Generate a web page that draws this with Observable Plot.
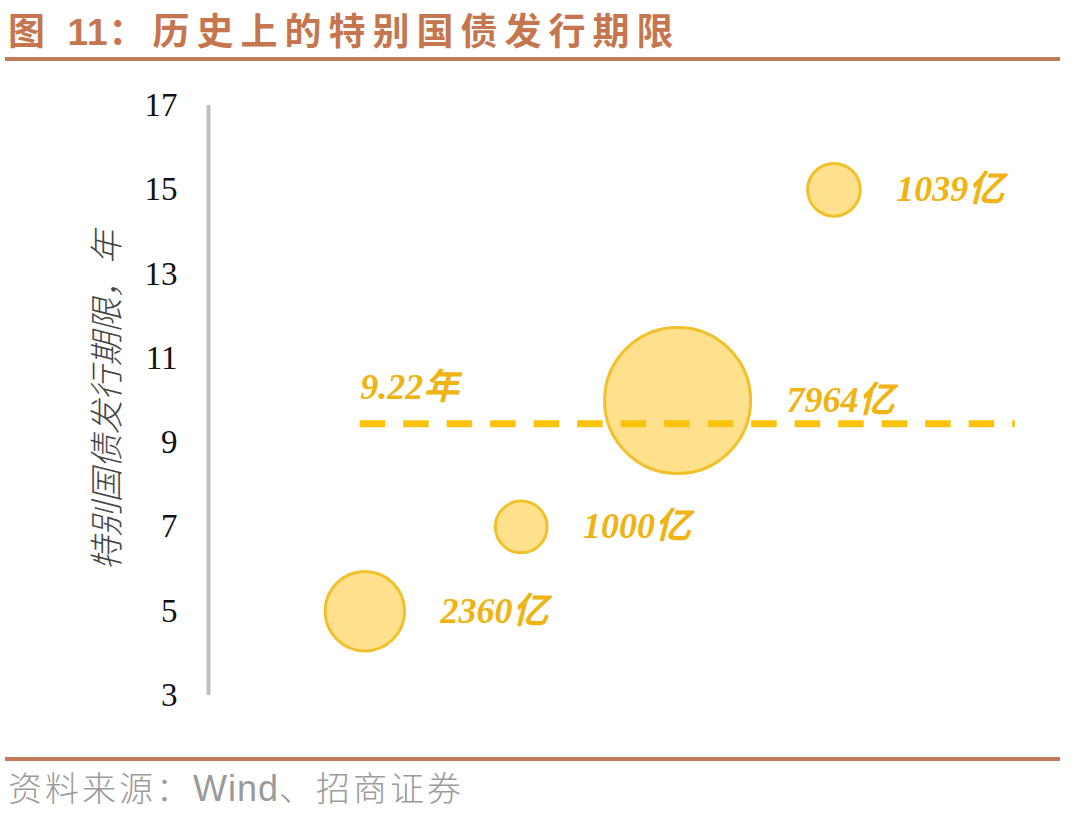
<!DOCTYPE html>
<html>
<head>
<meta charset="utf-8">
<script src="https://cdn.jsdelivr.net/npm/d3@7"></script>
<script src="https://cdn.jsdelivr.net/npm/@observablehq/plot@0.6"></script>
<style>
  html, body { margin: 0; padding: 0; background: #fff; }
  body { width: 1080px; height: 817px; overflow: hidden; position: relative; }
  .title {
    height: 57px; margin: 0 20px 0 5px;
    border-bottom: 4px solid #C27B58;
    font-family: "Noto Sans CJK SC", "Liberation Sans", sans-serif;
    font-weight: 700; font-size: 37px; letter-spacing: 7px;
    color: #C5764E; line-height: 58px; padding-left: 3px; white-space: nowrap;
  }
  .title .num { font-family: "Liberation Sans", sans-serif; letter-spacing: 1px; }
  #chart { height: 696px; }
  #chart svg { display: block; overflow: visible; }
  .footer {
    margin: 0 20px 0 5px; border-top: 4px solid #C27B58;
    font-family: "Noto Sans CJK SC", sans-serif; font-weight: 300;
    font-size: 34px; letter-spacing: 3px; color: #9a9a9a; line-height: 52px; padding-left: 3px; white-space: nowrap;
  }
  .footer .en { font-family: "Liberation Sans", sans-serif; font-weight: 400; font-size: 36px; letter-spacing: 1px; }
</style>
</head>
<body>
<div class="title">图 <span class="num">11</span>：历史上的特别国债发行期限</div>
<div id="chart"></div>
<div class="footer">资料来源：<span class="en">Wind</span>、招商证券</div>
<script>
// ---- data ----
const xPos = [1, 2, 3, 4];                 // bubble order along the (unlabelled) x axis
const tenor = [5, 7, 10, 15];              // 发行期限，年
const amount = [2360, 1000, 7964, 1039];   // 发行规模，亿
const amountLabels = ["2360亿", "1000亿", "7964亿", "1039亿"];
const yTicks = [3, 5, 7, 9, 11, 13, 15, 17];
const avgLineY = [9.45];                   // dashed average line as drawn
const avgLineX = [0.97, 5.16];             // its horizontal extent
const avgLabel = ["9.22年"];
const yLabel = "特别国债发行期限，年";

const data = xPos.map((x, i) => ({ x, tenor: tenor[i], amount: amount[i], label: amountLabels[i] }));

const rMax = 73;
const rScale = d3.scaleSqrt().domain([0, d3.max(amount)]).range([0, rMax]);

const gold = "#FAC20A";
const labelColor = "#EFB414";
const serif = "'Liberation Serif', 'Times New Roman', 'Noto Sans CJK SC', serif";

const labelMarks = data.map(d => Plot.text([d], {
  x: "x", y: "tenor", text: "label",
  dx: rScale(d.amount) + 36, textAnchor: "start", lineAnchor: "middle",
  fill: labelColor, fontSize: 36, fontWeight: "bold", fontStyle: "italic", fontFamily: serif
}));

const chart = Plot.plot({
  width: 1080, height: 696,
  marginTop: 44, marginBottom: 62, marginLeft: 208, marginRight: 12,
  style: { background: "transparent", overflow: "visible" },
  x: { domain: [0, 5.5], axis: null },
  y: { domain: [3, 17], axis: null },
  r: { domain: [0, d3.max(amount)], range: [0, rMax] },
  marks: [
    Plot.ruleX([0], { y1: 3, y2: 17, stroke: "#BFBFBF", strokeWidth: 4 }),
    Plot.axisY(yTicks, {
      tickSize: 0, tickPadding: 31, label: null,
      fontSize: 33, fontFamily: serif, fill: "#111"
    }),
    Plot.text([yLabel], {
      frameAnchor: "left", dx: -100, rotate: -90,
      textAnchor: "middle", lineAnchor: "middle",
      fontSize: 34, fontStyle: "italic", fontWeight: 300, fill: "#444",
      fontFamily: "'Noto Sans CJK SC', sans-serif", letterSpacing: 4
    }),
    Plot.dot(data, {
      x: "x", y: "tenor", r: "amount",
      fill: "#FFE18D", stroke: "#F2C02A", strokeWidth: 3
    }),
    Plot.ruleY(avgLineY, {
      x1: avgLineX[0], x2: avgLineX[1],
      stroke: gold, strokeWidth: 7, strokeDasharray: "25.5,18"
    }),
    Plot.text(avgLabel, {
      x: avgLineX[0], y: avgLineY[0], text: d => d, dy: -36,
      textAnchor: "start", lineAnchor: "middle",
      fill: labelColor, fontSize: 36, fontWeight: "bold", fontStyle: "italic", fontFamily: serif
    }),
    ...labelMarks
  ]
});
document.getElementById("chart").appendChild(chart);
</script>
</body>
</html>
